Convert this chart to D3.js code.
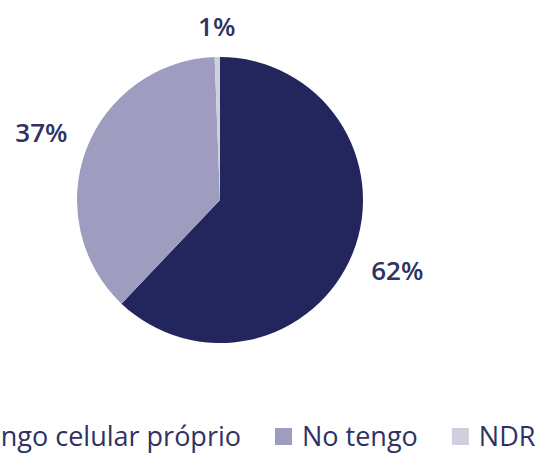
<!DOCTYPE html>
<html><head><meta charset="utf-8">
<script src="https://cdn.jsdelivr.net/npm/d3@7"></script>
<style>html,body{margin:0;padding:0;background:#fff;overflow:hidden}</style>
</head><body>
<svg id="chart" width="538" height="453"></svg>
<script>
const categories = ["Tengo celular próprio", "No tengo", "NDR"];
const values = [62.1, 37.3, 0.6];
const colors = ["#22265c", "#9e9cbf", "#cfcfe0"];

const svg = d3.select("#chart");
const cx = 220, cy = 200, r = 143;
const font = "'Open Sans', sans-serif";
const textColor = "#2e3363";

const pie = d3.pie().sort(null).value(d => d)(values);
const arc = d3.arc().innerRadius(0).outerRadius(r);
const g = svg.append("g").attr("transform", `translate(${cx},${cy})`);
g.selectAll("path").data(pie).join("path")
  .attr("d", arc).attr("fill", (d, i) => colors[i]);

const lbl = g.selectAll("text.lbl").data(pie).join("text")
  .attr("class", "lbl")
  .attr("font-family", font).attr("font-size", 26).attr("font-weight", 600)
  .attr("fill", textColor).attr("text-anchor", "middle")
  .text(d => Math.round(d.data) + "%");
lbl.each(function(d) {
  const a = (d.startAngle + d.endAngle) / 2;
  const w = this.getComputedTextLength();
  const rr = r + 20 + Math.abs(Math.sin(a)) * w / 2 + Math.abs(Math.cos(a)) * 10;
  d3.select(this).attr("x", Math.sin(a) * rr - (a < 0.2 ? 4 : 0)).attr("y", -Math.cos(a) * rr).attr("dy", "0.36em");
});

// legend
const lg = svg.append("g");
const items = lg.selectAll("g").data(categories).join("g");
items.append("rect").attr("width", 17).attr("height", 17).attr("y", 428)
  .attr("fill", (d, i) => colors[i]);
items.append("text").attr("font-family", font).attr("font-size", 27).attr("font-weight", 500)
  .attr("fill", textColor).attr("y", 446).text(d => d);
const widths = [];
items.select("text").each(function() { widths.push(this.getComputedTextLength()); });
const gapSw = 10, gapItem = 34;
const xs = [];
xs[1] = 275;
xs[0] = xs[1] - gapItem - widths[0] - 17 - gapSw;
xs[2] = xs[1] + 17 + gapSw + widths[1] + gapItem;
items.each(function(d, i) {
  const s = d3.select(this);
  s.select("rect").attr("x", xs[i]);
  s.select("text").attr("x", xs[i] + 17 + gapSw);
});
</script>
</body></html>
